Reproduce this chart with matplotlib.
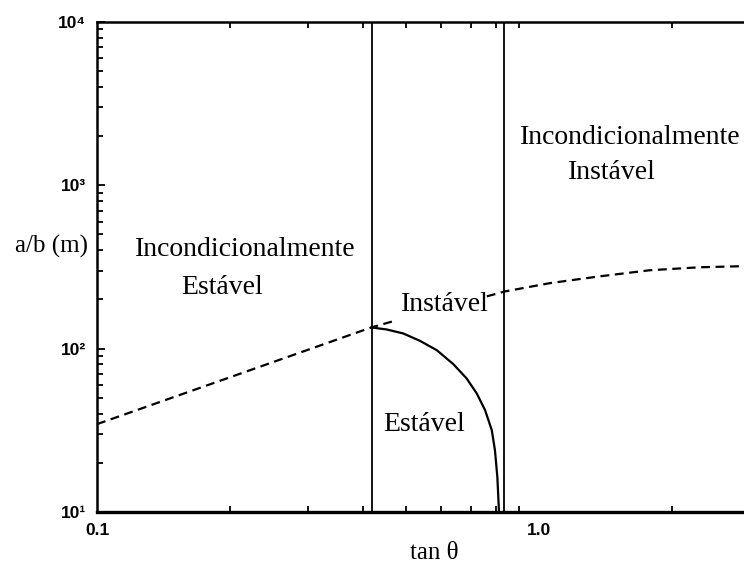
import matplotlib
matplotlib.use("Agg")
import matplotlib.pyplot as plt
from matplotlib.ticker import FixedLocator, NullFormatter

# Limites de estabilidade (tombamento)
x_tracejado_1 = [0.1, 0.418, 0.467]
y_tracejado_1 = [34.5, 135, 147]

x_tracejado_2 = [0.762, 0.837, 1.06, 1.37, 1.78, 2.31, 2.91]
y_tracejado_2 = [209, 224, 252, 277, 302, 315, 320]

x_curva = [0.418, 0.452, 0.493, 0.538, 0.587, 0.640, 0.686, 0.723, 0.755, 0.782, 0.795, 0.805, 0.812]
y_curva = [134.8, 131.1, 123.9, 111.6, 97.9, 80.4, 65.7, 53.2, 42.1, 31.7, 23.9, 16.4, 10.0]

x_verticais = [0.418, 0.835]

xticks = [0.1, 1.0]
xtick_labels = ["0.1", "1.0"]
yticks = [10, 100, 1000, 10000]
ytick_labels = ["10\u00b9", "10\u00b2", "10\u00b3", "10\u2074"]

serif = "Liberation Serif"
sans = "Liberation Sans"

fig = plt.figure(figsize=(7.44, 5.68), dpi=100)
ax = fig.add_axes([0.1304, 0.0986, 0.8696, 0.8627])
ax.set_xscale("log")
ax.set_yscale("log")
ax.set_xlim(0.1, 2.91)
ax.set_ylim(10, 10000)

# linhas
ax.plot(x_tracejado_1, y_tracejado_1, color="black", linestyle=(0, (4, 2.5)), linewidth=1.6)
ax.plot(x_tracejado_2, y_tracejado_2, color="black", linestyle=(0, (4, 2.5)), linewidth=1.6)
ax.plot(x_curva, y_curva, color="black", linewidth=1.6)
for xv in x_verticais:
    ax.axvline(xv, color="black", linewidth=1.3)

# eixos
ax.spines["right"].set_visible(False)
ax.spines["bottom"].set_linewidth(2.4)
ax.spines["left"].set_linewidth(1.8)
ax.spines["top"].set_linewidth(1.8)

ax.xaxis.set_major_locator(FixedLocator(xticks))
ax.set_xticklabels(xtick_labels, fontfamily=sans, fontweight="bold", fontsize=12.5)
ax.xaxis.set_minor_locator(FixedLocator([0.2, 0.3, 0.4, 0.5, 0.6, 0.7, 0.8, 0.9, 2.0]))
ax.xaxis.set_minor_formatter(NullFormatter())
ax.yaxis.set_major_locator(FixedLocator(yticks))
ax.set_yticklabels(ytick_labels, fontfamily=sans, fontweight="bold", fontsize=12.5)
ax.yaxis.set_minor_locator(FixedLocator([k * 10 ** d for d in range(1, 4) for k in range(2, 10)]))
ax.yaxis.set_minor_formatter(NullFormatter())

ax.tick_params(which="both", direction="in", top=True, right=False, width=1.3)
ax.tick_params(which="major", length=6, pad=8)
ax.tick_params(which="minor", length=4)
ax.tick_params(axis="x", which="major", length=0, pad=8)

ax.set_xlabel("tan \u03b8", fontfamily=serif, fontsize=18, va="center")
ax.xaxis.set_label_coords(0.522, -0.084)
ax.set_ylabel("a/b (m)", fontfamily=serif, fontsize=18, rotation=0, ha="center", va="center")
ax.yaxis.set_label_coords(-0.071, 0.541)

# textos das regioes
txt = dict(transform=ax.transAxes, fontfamily=serif, fontsize=20, ha="center", va="center", color="black")
ax.text(0.229, 0.535, "Incondicionalmente", **txt)
ax.text(0.193, 0.459, "Estável", **txt)
ax.text(0.538, 0.424, "Instável", **txt)
ax.text(0.505, 0.178, "Estável", **txt)
ax.text(0.824, 0.765, "Incondicionalmente", **txt)
ax.text(0.796, 0.692, "Instável", **txt)

fig.savefig("out.png", dpi=100)
